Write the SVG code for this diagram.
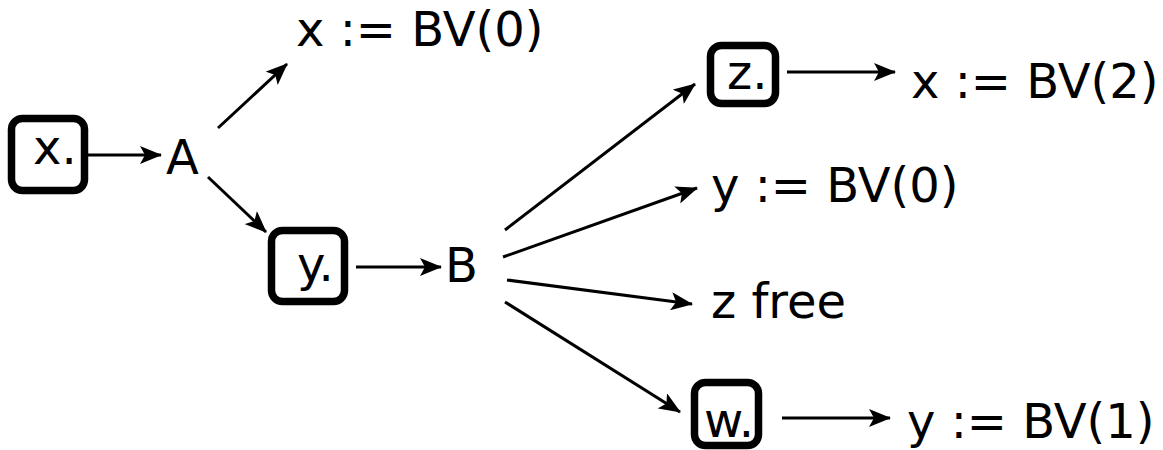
<svg xmlns="http://www.w3.org/2000/svg" width="1163" height="450" viewBox="0 0 1163 450">
<style>
text{font-family:"DejaVu Sans","Liberation Sans",sans-serif;font-size:48px;fill:#000}
.box{fill:#fff;stroke:#000;stroke-width:7.5}
.edge{stroke:#000;stroke-width:3;fill:none;marker-end:url(#ah)}
</style>
<defs>
<marker id="ah" markerUnits="userSpaceOnUse" markerWidth="22" markerHeight="18" refX="21" refY="9" orient="auto" viewBox="0 0 22 18">
<path d="M0,0 L22,9 L0,18 L5,9 Z" fill="#000"/>
</marker>
</defs>
<rect width="1163" height="450" fill="#fff"/>
<g id="edges">
<line class="edge" x1="86" y1="155" x2="161" y2="155"/>
<line class="edge" x1="218" y1="128" x2="287" y2="64"/>
<line class="edge" x1="208" y1="177" x2="266" y2="232"/>
<line class="edge" x1="356" y1="267" x2="441" y2="267"/>
<line class="edge" x1="505" y1="230" x2="695" y2="84"/>
<line class="edge" x1="503" y1="257" x2="697" y2="188"/>
<line class="edge" x1="507" y1="280" x2="692" y2="304"/>
<line class="edge" x1="505" y1="302" x2="680" y2="412"/>
<line class="edge" x1="787" y1="72" x2="895" y2="72"/>
<line class="edge" x1="782" y1="418" x2="890" y2="418"/>
</g>
<g id="node-x"><rect class="box" x="11.5" y="118.5" width="73" height="72" rx="11"/><text x="33" y="164">x.</text></g>
<g id="node-A"><text x="166" y="174">A</text></g>
<g id="node-xbv0"><text x="296" y="46">x := BV(0)</text></g>
<g id="node-y"><rect class="box" x="271.5" y="230.5" width="73" height="71" rx="11"/><text x="297" y="281">y.</text></g>
<g id="node-B"><text x="445" y="282">B</text></g>
<g id="node-z"><rect class="box" x="710.5" y="45.5" width="65" height="58" rx="11"/><text x="727" y="89">z.</text></g>
<g id="node-xbv2"><text x="911" y="98">x := BV(2)</text></g>
<g id="node-ybv0"><text x="711" y="202">y := BV(0)</text></g>
<g id="node-zfree"><text x="711" y="318">z free</text></g>
<g id="node-w"><rect class="box" x="694.5" y="382.5" width="64" height="63" rx="11"/><text x="704" y="437">w.</text></g>
<g id="node-ybv1"><text x="907" y="438">y := BV(1)</text></g>
</svg>
